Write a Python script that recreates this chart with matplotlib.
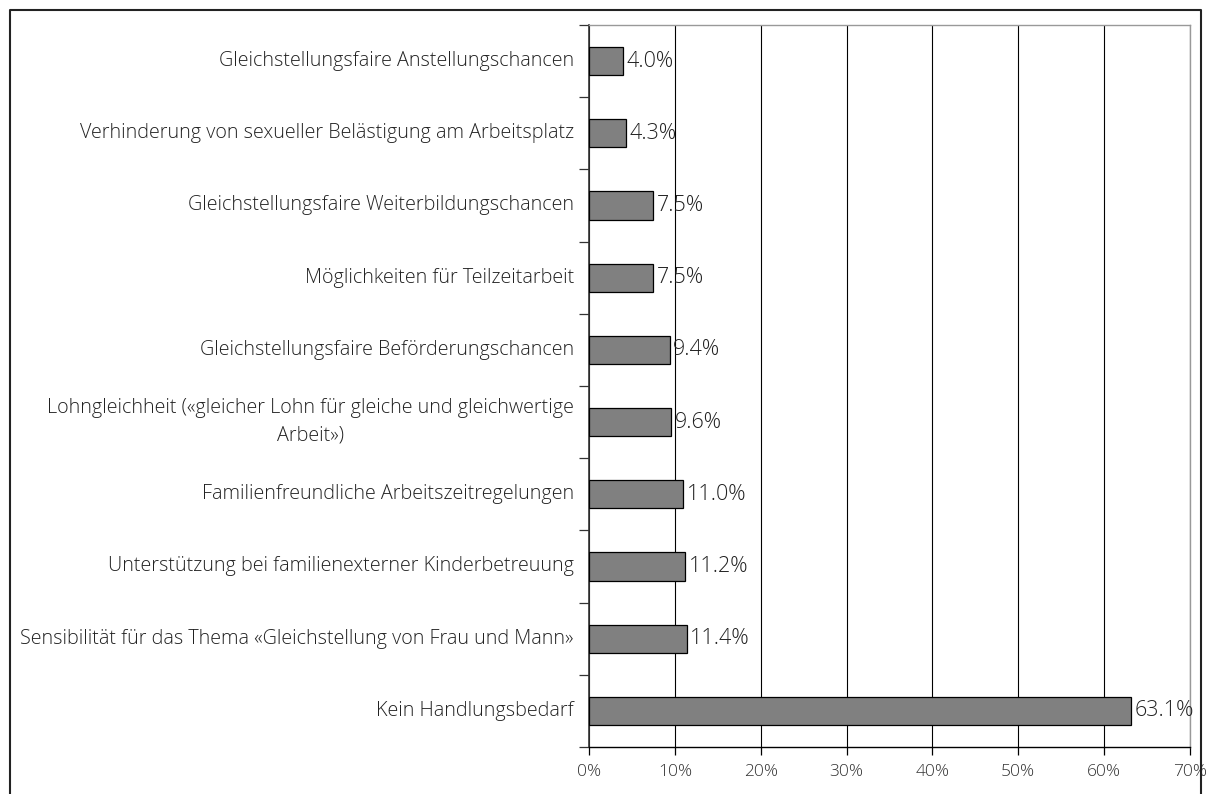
import matplotlib.pyplot as plt
from matplotlib.lines import Line2D

plt.rcParams['font.family'] = ['Open Sans', 'DejaVu Sans']

categories = [
    "Gleichstellungsfaire Anstellungschancen",
    "Verhinderung von sexueller Belästigung am Arbeitsplatz",
    "Gleichstellungsfaire Weiterbildungschancen",
    "Möglichkeiten für Teilzeitarbeit",
    "Gleichstellungsfaire Beförderungschancen",
    "Lohngleichheit («gleicher Lohn für gleiche und gleichwertige\nArbeit»)",
    "Familienfreundliche Arbeitszeitregelungen",
    "Unterstützung bei familienexterner Kinderbetreuung",
    "Sensibilität für das Thema «Gleichstellung von Frau und Mann»",
    "Kein Handlungsbedarf",
]
values = [4.0, 4.3, 7.5, 7.5, 9.4, 9.6, 11.0, 11.2, 11.4, 63.1]
xticks = [0, 10, 20, 30, 40, 50, 60, 70]

fig = plt.figure(figsize=(12.06, 7.94), dpi=100)
ax = fig.add_axes([589 / 1206, 1 - 747 / 794, (1190 - 589) / 1206, (747 - 25) / 794])

n = len(categories)
ypos = list(range(n))
ax.barh(ypos, values, height=0.39, color='#808080', edgecolor='black', linewidth=0.9, zorder=3)
for y, v in zip(ypos, values):
    ax.text(v + 0.4, y, f"{v:.1f}%", va='center', ha='left', fontsize=15.5,
            fontweight='light', color='#222222', zorder=4)

ax.set_xlim(0, 70)
ax.set_ylim(n - 0.5, -0.5)
ax.set_xticks(xticks)
ax.set_xticklabels([f"{t}%" for t in xticks], fontsize=12.5, fontweight='light', color='#333333')
ax.xaxis.grid(True, color='black', linewidth=0.8, zorder=0)

# category labels placed as text, ticks at boundaries
ax.set_yticks([i + 0.5 for i in range(-1, n)])
ax.set_yticklabels([])
ax.tick_params(axis='y', direction='out', length=7, width=0.9, color='#333333')
ax.tick_params(axis='x', direction='out', length=6, width=0.9, pad=6, color='black')
for y, c in zip(ypos, categories):
    ax.text(-1.75, y, c, ha='right', va='center', fontsize=14.2, fontweight='light',
            color='#222222', multialignment='center', linespacing=1.5,
            transform=ax.transData)

ax.spines['left'].set_color('#333333')
ax.spines['left'].set_linewidth(1.2)
ax.spines['bottom'].set_color('black')
ax.spines['bottom'].set_linewidth(1.0)
ax.spines['top'].set_color('#999999')
ax.spines['right'].set_color('#999999')
ax.spines['top'].set_linewidth(1.0)
ax.spines['right'].set_linewidth(1.0)

# outer border
x0, x1 = 10 / 1206, 1201 / 1206
yt = 1 - 10 / 794
fig.add_artist(Line2D([x0, x0, x1, x1], [0, yt, yt, 0], color='#222222', linewidth=1.5,
                      transform=fig.transFigure))

fig.savefig('out.png', dpi=100)
